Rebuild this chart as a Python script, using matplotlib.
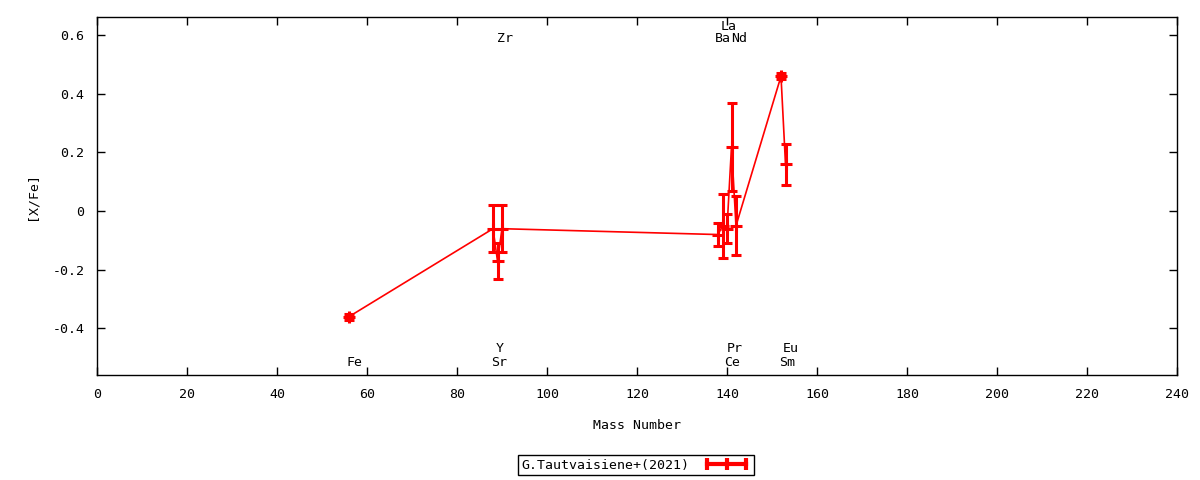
import matplotlib
matplotlib.use('Agg')
import matplotlib.pyplot as plt
from matplotlib.lines import Line2D

# [X/Fe] by mass number, G.Tautvaisiene+(2021)
mass = [56, 88, 89, 90, 138, 139, 140, 141, 142, 152, 153]
xfe = [-0.36, -0.06, -0.17, -0.06, -0.08, -0.05, -0.06, 0.22, -0.05, 0.46, 0.16]
xfe_err = [0.01, 0.08, 0.06, 0.08, 0.04, 0.11, 0.05, 0.15, 0.10, 0.01, 0.07]

# element labels: name, x position, y position
label_names = ['Fe', 'Sr', 'Y', 'Zr', 'Ba', 'La', 'Ce', 'Pr', 'Nd', 'Sm', 'Eu']
label_x = [55.5, 87.5, 88.6, 89.0, 137.4, 138.6, 139.4, 139.9, 141.0, 151.6, 152.4]
label_y = [-0.518, -0.518, -0.470, 0.590, 0.590, 0.630, -0.518, -0.470, 0.590, -0.518, -0.470]

xticks = list(range(0, 241, 20))
yticks = [-0.4, -0.2, 0, 0.2, 0.4, 0.6]
ytick_labels = ['-0.4', '-0.2', '0', '0.2', '0.4', '0.6']

plt.rcParams['font.family'] = ['DejaVu Sans Mono']
plt.rcParams['font.size'] = 9.5

fig = plt.figure(figsize=(12, 4.8), dpi=100)
ax = fig.add_axes([97 / 1200, 1 - 375 / 480, 1080 / 1200, 358 / 480])

# thin connecting line
ax.plot(mass, xfe, color='red', lw=1.2, zorder=2)
# thick error bars with points
ax.errorbar(mass, xfe, yerr=xfe_err, fmt='+', color='red', ms=8, mew=2.2,
            elinewidth=2.2, capsize=3.6, capthick=2.2, zorder=3)

for name, lx, ly in zip(label_names, label_x, label_y):
    ax.text(lx, ly, name, ha='left', va='center', fontsize=9.5)

ax.set_xlim(0, 240)
ax.set_ylim(-0.559, 0.662)
ax.set_xticks(xticks)
ax.set_yticks(yticks)
ax.set_yticklabels(ytick_labels)
ax.tick_params(direction='in', length=6, width=1, top=True, right=True, pad=9)
for s in ax.spines.values():
    s.set_linewidth(1)

ax.set_xlabel('Mass Number', labelpad=13)
ax.set_ylabel('[X/Fe]', labelpad=10)

handle = Line2D([], [], color='red', lw=3, marker='|', ms=9, mew=3)
leg = fig.legend(handles=[handle], labels=['G.Tautvaisiene+(2021)'],
                 loc='center', bbox_to_anchor=(636 / 1200, 1 - 465 / 480),
                 numpoints=3, markerfirst=False, handlelength=3.6,
                 fancybox=False, framealpha=1, edgecolor='black',
                 borderpad=0.3, handletextpad=1.0, borderaxespad=0)
leg.get_frame().set_linewidth(1)

fig.savefig('out.png', dpi=100)
